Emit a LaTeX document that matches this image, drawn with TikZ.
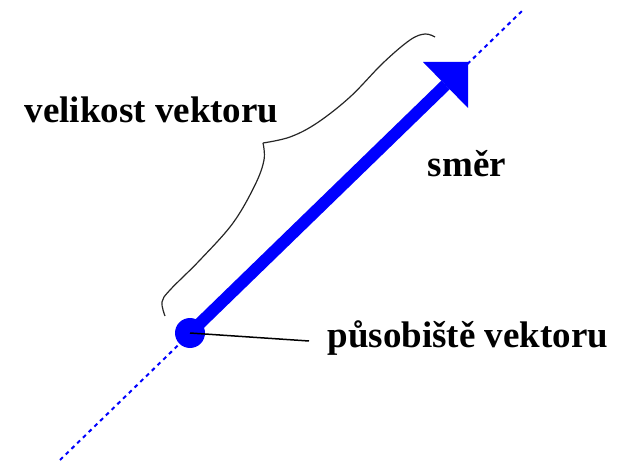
\documentclass[tikz,border=0pt]{standalone}
\usepackage{fontspec}
\setmainfont{Liberation Serif}
\definecolor{vblue}{RGB}{0,0,255}
\begin{document}
\begin{tikzpicture}[x=1pt,y=-1pt,
  lbl/.style={font=\bfseries\fontsize{37}{42}\selectfont, anchor=base, inner sep=0pt},
  axisline/.style={vblue, line width=2pt, dash pattern=on 4pt off 4pt},
  shaft/.style={vblue, line width=12pt},
  brace/.style={black!85, line width=1.2pt},
  leader/.style={black, line width=1.5pt}]
\useasboundingbox (0,0) rectangle (629,465);
% direction line
\coordinate (lo) at (60,460);
\coordinate (hi) at (523,10);
\draw[axisline] (lo) -- (hi);
% vector
\node[circle, fill=vblue, minimum size=30pt, inner sep=0pt] (dot) at (190,333) {};
\coordinate (base) at (445.5,85);
\draw[shaft] (dot.center) -- (base);
\fill[vblue] (423,62) -- (468,62) -- (468,108) -- cycle;
% labels
\node[lbl] (vel) at (151.5,123) {velikost vektoru};
\node[lbl] (smer) at (467,177) {směr};
\node[lbl] (pus) at (468,347) {působiště vektoru};
% leader
\coordinate (le) at (309,341);
\draw[leader] (dot.center) -- (le);
% brace
\draw[brace] plot[smooth, tension=0.6] coordinates {(165,316) (162,302) (170,290) (200,260) (233,223) (255,185) (264,160) (263,143)};
\draw[brace] plot[smooth, tension=0.6] coordinates {(263,143) (290,137) (317,123) (350,97) (383,63) (410,40) (425,34) (435,37)};
\end{tikzpicture}
\end{document}
